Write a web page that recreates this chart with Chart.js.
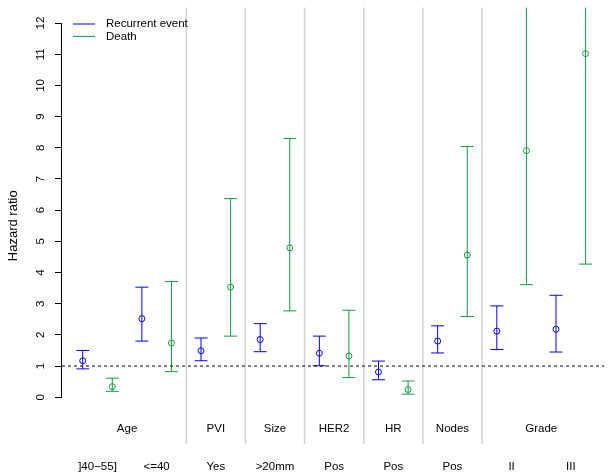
<!DOCTYPE html>
<html>
<head>
<meta charset="utf-8">
<script src="https://cdn.jsdelivr.net/npm/chart.js@4/dist/chart.umd.min.js"></script>
<style>
  html, body { margin: 0; padding: 0; background: #fff; }
  #wrap { width: 612px; height: 472px; }
</style>
</head>
<body>
<div id="wrap"><canvas id="hrChart"></canvas></div>
<script>
// categories along the bottom, one slot each
const categories = [']40\u221255]', '<=40', 'Yes', '>20mm', 'Pos', 'Pos', 'Pos', 'II', 'III'];
const groups = ['Age', 'PVI', 'Size', 'HER2', 'HR', 'Nodes', 'Grade'];
const groupCenters = [1, 2.5, 3.5, 4.5, 5.5, 6.5, 8];
const separators = [2, 3, 4, 5, 6, 7];
const yTicks = [0, 1, 2, 3, 4, 5, 6, 7, 8, 9, 10, 11, 12];

// hazard ratios with confidence limits
const recurrentHR = [1.17, 2.52, 1.49, 1.85, 1.41, 0.81, 1.80, 2.12, 2.18];
const recurrentLo = [0.91, 1.80, 1.17, 1.46, 1.01, 0.56, 1.42, 1.53, 1.45];
const recurrentHi = [1.50, 3.53, 1.90, 2.36, 1.96, 1.16, 2.29, 2.93, 3.27];
const deathHR = [0.34, 1.74, 3.53, 4.79, 1.32, 0.25, 4.56, 7.91, 11.02];
const deathLo = [0.19, 0.82, 1.96, 2.77, 0.63, 0.10, 2.59, 3.61, 4.27];
const deathHi = [0.61, 3.71, 6.37, 8.30, 2.79, 0.52, 8.04, 17.3, 28.5];

const BLUE = '#0000ff';
const GREEN = '#109c40';
const FONT = 'Liberation Sans, Arial, Helvetica, sans-serif';

Chart.defaults.font.family = FONT;
Chart.defaults.color = '#000';

function whiskers(offset, lo, hi) {
  const pts = [];
  lo.forEach((v, i) => {
    pts.push({x: i + offset, y: v}, {x: i + offset, y: hi[i]}, {x: i + offset, y: null});
  });
  return pts;
}
function caps(offset, lo, hi) {
  const pts = [];
  lo.forEach((v, i) => {
    pts.push({x: i + offset, y: v}, {x: i + offset, y: hi[i]});
  });
  return pts;
}
function centers(offset, vals) {
  return vals.map((v, i) => ({x: i + offset, y: v}));
}

function errorSet(offset, hr, lo, hi, color) {
  return [
    {
      type: 'line', data: whiskers(offset, lo, hi), borderColor: color, borderWidth: 1,
      pointRadius: 0, spanGaps: false, tension: 0
    },
    {
      type: 'scatter', data: caps(offset, lo, hi), borderColor: color, borderWidth: 1,
      pointStyle: 'line', pointRadius: 6.5, pointHoverRadius: 6.5
    },
    {
      type: 'scatter', data: centers(offset, hr), borderColor: color, borderWidth: 1,
      backgroundColor: 'rgba(0,0,0,0)', pointStyle: 'circle', pointRadius: 3
    }
  ];
}

const annotate = {
  id: 'annotate',
  beforeDatasetsDraw(chart) {
    const {ctx, chartArea, scales: {x, y}} = chart;
    ctx.save();
    // panel separators
    ctx.strokeStyle = '#d0d0d0';
    ctx.lineWidth = 1.5;
    separators.forEach(v => {
      const px = x.getPixelForValue(v);
      ctx.beginPath();
      ctx.moveTo(px, chartArea.top);
      ctx.lineTo(px, chartArea.bottom);
      ctx.stroke();
    });
    // y axis line, only over the tick range
    ctx.strokeStyle = '#000';
    ctx.lineWidth = 1;
    ctx.beginPath();
    ctx.moveTo(chartArea.left - 0.5, y.getPixelForValue(0));
    ctx.lineTo(chartArea.left - 0.5, y.getPixelForValue(12));
    ctx.stroke();
    // group names inside the plot
    ctx.fillStyle = '#000';
    ctx.font = '11.5px ' + FONT;
    ctx.textAlign = 'center';
    ctx.textBaseline = 'middle';
    groups.forEach((g, i) => {
      ctx.fillText(g, x.getPixelForValue(groupCenters[i]), y.getPixelForValue(-1));
    });
    ctx.restore();
  },
  afterDatasetsDraw(chart) {
    const {ctx, chartArea} = chart;
    const items = [['Recurrent event', BLUE], ['Death', GREEN]];
    ctx.save();
    ctx.font = '11.5px ' + FONT;
    ctx.textAlign = 'left';
    ctx.textBaseline = 'middle';
    items.forEach(([label, color], i) => {
      const cy = chartArea.top + 16.5 + i * 12.4;
      ctx.strokeStyle = color;
      ctx.lineWidth = 1;
      ctx.beginPath();
      ctx.moveTo(chartArea.left + 11, cy);
      ctx.lineTo(chartArea.left + 33, cy);
      ctx.stroke();
      ctx.fillStyle = '#000';
      ctx.fillText(label, chartArea.left + 44, cy);
    });
    ctx.restore();
  }
};

const datasets = [
  {
    type: 'line', data: [{x: -0.1, y: 1}, {x: 9.07, y: 1}], borderColor: '#000',
    borderWidth: 1, borderDash: [3, 3], pointRadius: 0
  },
  ...errorSet(0.25, recurrentHR, recurrentLo, recurrentHi, BLUE),
  ...errorSet(0.75, deathHR, deathLo, deathHi, GREEN)
];

function noPad(axis) {
  axis.paddingTop = 0;
  axis.paddingBottom = 0;
  axis.paddingLeft = 0;
  axis.paddingRight = 0;
}

new Chart(document.getElementById('hrChart'), {
  type: 'scatter',
  data: {datasets: datasets},
  options: {
    responsive: true,
    maintainAspectRatio: false,
    animation: false,
    layout: {padding: {top: 6, right: 0, bottom: 0, left: 0}},
    plugins: {legend: {display: false}, tooltip: {enabled: false}},
    scales: {
      x: {
        type: 'linear',
        min: -0.1,
        max: 9.07,
        afterBuildTicks: axis => {
          axis.ticks = categories.map((c, i) => ({value: i + 0.5}));
        },
        afterFit: axis => { axis.height = 28; noPad(axis); },
        grid: {display: false},
        border: {display: false},
        ticks: {
          autoSkip: false,
          maxRotation: 0,
          padding: 8,
          font: {size: 11.5},
          callback: (v, i) => categories[i]
        }
      },
      y: {
        type: 'linear',
        min: -1.5,
        max: 12.5,
        afterBuildTicks: axis => {
          axis.ticks = yTicks.map(v => ({value: v}));
        },
        afterFit: axis => { axis.width = 62; noPad(axis); },
        grid: {drawOnChartArea: false, drawTicks: true, tickLength: 7, color: '#000'},
        border: {display: false},
        title: {display: true, text: 'Hazard ratio', font: {size: 13}, padding: {top: 6, bottom: 0}},
        ticks: {
          minRotation: 90,
          maxRotation: 90,
          crossAlign: 'center',
          padding: 8,
          font: {size: 11.5},
          callback: v => String(v)
        }
      }
    }
  },
  plugins: [annotate]
});
</script>
</body>
</html>
